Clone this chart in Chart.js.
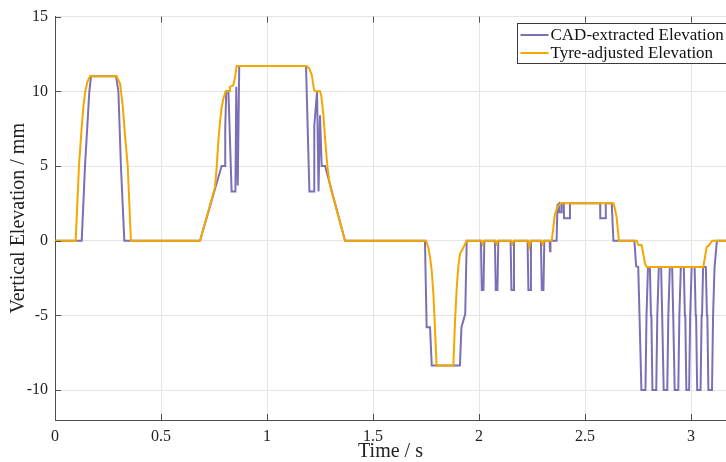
<!DOCTYPE html>
<html>
<head>
<meta charset="utf-8">
<script src="https://cdn.jsdelivr.net/npm/chart.js@4/dist/chart.umd.min.js"></script>
<style>
  html, body { margin: 0; padding: 0; background: #fff; }
  canvas { display: block; }
</style>
</head>
<body>
<canvas id="chart" width="726" height="462"></canvas>
<script>
// Series names
const seriesNames = ['CAD-extracted Elevation', 'Tyre-adjusted Elevation'];

// CAD-extracted elevation profile (time in s, elevation in mm)
const cadTime = [
  0, 0.126, 0.1415, 0.162, 0.170, 0.288, 0.299, 0.311, 0.327,
  0.684, 0.786, 0.802, 0.803, 0.808, 0.818, 0.833, 0.851, 0.855, 0.862, 0.869,
  1.184, 1.200, 1.222, 1.223, 1.236, 1.243, 1.250, 1.258, 1.274, 1.368,
  1.745, 1.753, 1.769, 1.777, 1.910, 1.917, 1.927, 1.935, 1.942,
  2.009, 2.013, 2.021, 2.025,
  2.075, 2.079, 2.087, 2.091,
  2.149, 2.153, 2.161, 2.165,
  2.229, 2.233, 2.241, 2.245,
  2.292, 2.296, 2.304, 2.308,
  2.333, 2.335, 2.337,
  2.366, 2.370, 2.378, 2.379, 2.388, 2.390, 2.400, 2.401, 2.427, 2.429,
  2.571, 2.572, 2.597, 2.598, 2.626, 2.634,
  2.733, 2.741, 2.751,
  2.757, 2.759, 2.766, 2.785, 2.790, 2.792, 2.797, 2.806,
  2.811, 2.813, 2.818, 2.836, 2.841, 2.843, 2.848, 2.859,
  2.864, 2.866, 2.871, 2.888, 2.893, 2.895, 2.900, 2.911,
  2.916, 2.918, 2.923, 2.940, 2.945, 2.947, 2.952, 2.966,
  2.971, 2.973, 2.978, 2.991, 2.996, 2.998, 3.003, 3.017,
  3.022, 3.024, 3.029, 3.045, 3.050, 3.052, 3.057, 3.070,
  3.075, 3.077, 3.082, 3.099, 3.104, 3.106, 3.111, 3.116, 3.122,
  3.165
];
const cadElev = [
  0, 0, 5, 10, 11, 11, 10, 5, 0,
  0, 5, 5, 7.6, 10, 10, 3.3, 3.3, 10.3, 3.7, 11.7,
  11.7, 3.3, 3.3, 7.7, 10, 3.3, 8.4, 5.0, 5.0, 0,
  0, -5.8, -5.8, -8.35, -8.35, -5.8, -5.3, -4.9, 0,
  0, -3.3, -3.3, 0,
  0, -3.3, -3.3, 0,
  0, -3.3, -3.3, 0,
  0, -3.3, -3.3, 0,
  0, -3.3, -3.3, 0,
  0, -0.7, 0,
  0, 2.4, 2.5, 1.9, 1.9, 2.5, 2.5, 1.5, 1.5, 2.5,
  2.5, 1.5, 1.5, 2.5, 2.5, 0,
  0, -1.7, -1.76,
  -5, -5, -10, -10, -5, -5, -1.76, -1.76,
  -5, -5, -10, -10, -5, -5, -1.76, -1.76,
  -5, -5, -10, -10, -5, -5, -1.76, -1.76,
  -5, -5, -10, -10, -5, -5, -1.76, -1.76,
  -5, -5, -10, -10, -5, -5, -1.76, -1.76,
  -5, -5, -10, -10, -5, -5, -1.76, -1.76,
  -5, -5, -10, -10, -5, -5, -1.76, -1.0, 0,
  0
];

// Tyre-adjusted elevation profile (time in s, elevation in mm)
const tyreTime = [
  0, 0.0975, 0.113, 0.126, 0.134, 0.143, 0.152, 0.165, 0.291, 0.307, 0.319, 0.330, 0.343, 0.358,
  0.684, 0.755, 0.763, 0.770, 0.778, 0.786, 0.794, 0.805, 0.821, 0.825, 0.841, 0.850, 0.857,
  1.187, 1.200, 1.211, 1.222, 1.228, 1.250, 1.256, 1.266, 1.278, 1.286, 1.297, 1.368,
  1.750, 1.761, 1.769, 1.777, 1.785, 1.792, 1.800, 1.879, 1.887, 1.895, 1.902, 1.910, 1.926, 1.942,
  2.011, 2.017, 2.023, 2.077, 2.083, 2.089, 2.151, 2.157, 2.163,
  2.231, 2.237, 2.243, 2.294, 2.300, 2.306,
  2.343, 2.350, 2.357, 2.366, 2.375, 2.382, 2.390, 2.634, 2.640, 2.649, 2.655, 2.660,
  2.744, 2.751, 2.767, 2.775, 2.783, 2.791, 3.058, 3.066, 3.074, 3.082, 3.100,
  3.165
];
const tyreElev = [
  0, 0, 5, 7.6, 9.0, 10.0, 10.6, 11, 11, 10.5, 9.1, 7.1, 5, 0,
  0, 3.6, 5.0, 6.6, 7.9, 8.9, 9.5, 10, 10, 10.3, 10.4, 11.0, 11.7,
  11.7, 11.5, 11.1, 10.1, 10, 10, 9.7, 8.4, 6.1, 4.8, 3.7, 0,
  0, -0.45, -1.1, -2.0, -3.6, -5.8, -8.35, -8.35, -5.35, -3.1, -1.8, -0.9, -0.45, 0,
  0, -0.22, 0, 0, -0.22, 0, 0, -0.22, 0,
  0, -0.4, 0, 0, -0.22, 0,
  0, 0.8, 1.7, 2.1, 2.35, 2.45, 2.5, 2.5, 2.2, 1.6, 0.7, 0,
  0, -0.27, -0.3, -0.9, -1.54, -1.76, -1.76, -1.1, -0.42, -0.35, 0,
  0
];

// Axis ticks
const xTicks = [0, 0.5, 1, 1.5, 2, 2.5, 3];
const yTicks = [-10, -5, 0, 5, 10, 15];

const SERIF = '"Liberation Serif", "Times New Roman", serif';
const AXIS_COLOR = '#4f4f4f';
const GRID_COLOR = '#e5e5e5';
const COLORS = ['#7b70b6', '#f4a700'];

const toPoints = (xs, ys) => xs.map((x, i) => ({ x, y: ys[i] }));

// Inward tick marks plus a boxed legend inside the plot area
const frameAndLegend = {
  id: 'frameAndLegend',
  afterDatasetsDraw(chart) {
    const { ctx, chartArea: a, scales: { x, y } } = chart;
    ctx.save();
    ctx.strokeStyle = AXIS_COLOR;
    ctx.lineWidth = 1;
    ctx.beginPath();
    x.ticks.forEach(t => {
      const px = Math.round(x.getPixelForValue(t.value)) + 0.5;
      ctx.moveTo(px, a.bottom); ctx.lineTo(px, a.bottom - 6);
      ctx.moveTo(px, a.top); ctx.lineTo(px, a.top + 6);
    });
    y.ticks.forEach(t => {
      const py = Math.round(y.getPixelForValue(t.value)) + 0.5;
      ctx.moveTo(a.left, py); ctx.lineTo(a.left + 6, py);
    });
    ctx.stroke();

    // legend box
    const bx = 517.5, by = 23.5, bw = 212, bh = 40;
    ctx.fillStyle = '#fff';
    ctx.fillRect(bx, by, bw, bh);
    ctx.strokeStyle = '#3a3a3a';
    ctx.strokeRect(bx, by, bw, bh);
    ctx.font = '17px ' + SERIF;
    ctx.textBaseline = 'middle';
    ctx.textAlign = 'left';
    chart.data.datasets.forEach((ds, i) => {
      const ly = by + 11.5 + i * 18;
      ctx.strokeStyle = ds.borderColor;
      ctx.lineWidth = 2;
      ctx.beginPath();
      ctx.moveTo(bx + 3, ly); ctx.lineTo(bx + 31, ly);
      ctx.stroke();
      ctx.fillStyle = '#111';
      ctx.fillText(ds.label, bx + 33, ly + 1);
    });
    ctx.restore();
  }
};

new Chart(document.getElementById('chart'), {
  type: 'line',
  data: {
    datasets: [
      {
        label: seriesNames[0],
        data: toPoints(cadTime, cadElev),
        borderColor: COLORS[0],
        borderWidth: 2,
        pointRadius: 0,
        tension: 0,
        order: 1
      },
      {
        label: seriesNames[1],
        data: toPoints(tyreTime, tyreElev),
        borderColor: COLORS[1],
        borderWidth: 2,
        pointRadius: 0,
        tension: 0,
        order: 0
      }
    ]
  },
  options: {
    responsive: false,
    animation: false,
    devicePixelRatio: 1,
    parsing: false,
    layout: { padding: { top: 15, right: 0, bottom: 0, left: 0 } },
    plugins: { legend: { display: false }, tooltip: { enabled: false } },
    scales: {
      x: {
        type: 'linear',
        min: 0,
        max: 3.165,
        afterBuildTicks: s => { s.ticks = xTicks.map(v => ({ value: v })); },
        afterFit: s => { s.height = 42; },
        grid: { color: GRID_COLOR, lineWidth: 1, drawTicks: false },
        border: { color: AXIS_COLOR, width: 1 },
        ticks: {
          color: '#222',
          padding: 7,
          maxRotation: 0,
          font: { family: SERIF, size: 16 },
          callback: v => String(v)
        },
        title: {
          display: true,
          text: 'Time / s',
          color: '#222',
          font: { family: SERIF, size: 20 },
          padding: { top: 0, bottom: -2 }
        }
      },
      y: {
        type: 'linear',
        min: -12,
        max: 15,
        afterBuildTicks: s => { s.ticks = yTicks.map(v => ({ value: v })); },
        afterFit: s => { s.width = 55; },
        grid: { color: GRID_COLOR, lineWidth: 1, drawTicks: false },
        border: { color: AXIS_COLOR, width: 1 },
        ticks: {
          color: '#222',
          padding: 7,
          font: { family: SERIF, size: 16 },
          callback: v => String(v)
        },
        title: {
          display: true,
          text: 'Vertical Elevation / mm',
          color: '#222',
          font: { family: SERIF, size: 20 },
          padding: { top: 7, bottom: 0 }
        }
      }
    }
  },
  plugins: [frameAndLegend]
});
</script>
</body>
</html>
